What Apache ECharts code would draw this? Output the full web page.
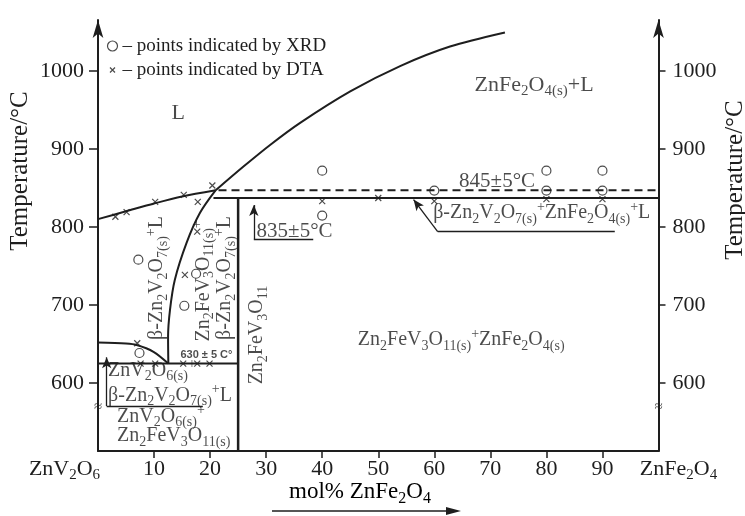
<!DOCTYPE html>
<html><head><meta charset="utf-8">
<script src="https://cdn.jsdelivr.net/npm/echarts@6/dist/echarts.min.js"></script>
<style>html,body{margin:0;padding:0;background:#fff}#c{width:745px;height:516px}</style>
</head><body><div id="c"></div>
<script>
const SERIF = '"Liberation Serif","Times New Roman",serif';
const INK = '#1e1e1e';

// ---- axes ----
const xTickValues = [0,10,20,30,40,50,60,70,80,90,100];
const xTickLabels = ['ZnV_{2}O_{6}','10','20','30','40','50','60','70','80','90','ZnFe_{2}O_{4}'];
const yTickValues = [600,700,800,900,1000];
const yTickLabels = ['600','700','800','900','1000'];
const yMin = 513, yMax = 1065;

// ---- phase boundaries (mol% ZnFe2O4, °C) ----
const liquidusLeftX = [0, 5, 10, 15, 21];
const liquidusLeftT = [810, 820, 830, 839, 847];
const liquidusRightX = [21, 25.9, 30.7, 36, 45, 53.9, 62.8, 72.6];
const liquidusRightT = [847, 877, 905, 933, 973.6, 1006, 1031, 1049];
const betaBoundaryX = [21, 18.2, 15.8, 13.7, 12.85, 12.5, 12.55];
const betaBoundaryT = [847, 818, 779.5, 732, 694, 659, 625];
const lowCurveX = [0, 5, 6.9, 9.9, 12.55];
const lowCurveT = [652, 650.6, 648.7, 640, 625];
const peritecticT = 847;      // dashed, 845±5 °C
const peritecticX = [21.5, 100];
const invariantT = 837;       // 835±5 °C
const invariantX = [20.6, 100];
const eutecticT = 625;        // 630±5 °C
const eutecticX = [0, 25];
const compoundX = 25;         // Zn2FeV3O11

// ---- experimental points ----
const xrdX = [7.2, 17.5, 15.4, 7.4, 40, 40, 60, 80, 90, 80, 90];
const xrdT = [758, 740, 699, 638.5, 872, 814.5, 846.5, 872, 872, 846.5, 846.5];
const dtaX = [3.1, 5.1, 10.2, 15.3, 20.4, 17.8, 17.7, 15.5, 7.0, 7.6, 10.2, 15.2, 17.7, 19.9, 40, 50, 60, 80, 90];
const dtaT = [813, 819, 832, 841, 853, 832, 794, 738.5, 651, 625, 625, 625, 625, 625, 833, 837, 833, 835.5, 835.5];

const XRD_NAME = '– points indicated by XRD';
const DTA_NAME = '– points indicated by DTA';

function toRich(s){
  let out='', last=0, m; const re=/([_^])\{([^}]*)\}/g;
  while((m=re.exec(s))!==null){
    if(m.index>last) out+='{n|'+s.slice(last,m.index)+'}';
    out+=(m[1]==='_'?'{s|':'{u|')+m[2]+'}';
    last=re.lastIndex;
  }
  if(last<s.length) out+='{n|'+s.slice(last)+'}';
  return out;
}
function richStyles(size, extra){
  const sub=Math.round(size*0.7), off=Math.round(size*0.6);
  return Object.assign({
    n:{fontFamily:SERIF,fontSize:size,color:INK,lineHeight:size+2},
    s:{fontFamily:SERIF,fontSize:sub,color:INK,lineHeight:sub+2,padding:[off,0,0,0]},
    u:{fontFamily:SERIF,fontSize:sub,color:INK,lineHeight:sub+2,padding:[0,0,off,0]}
  }, extra||{});
}
const zip=(a,b)=>a.map((v,i)=>[v,b[i]]);

// annotation layout (data coords)
const notes = [
  {t:'L', x:14.3, y:946, size:22},
  {t:'ZnFe_{2}O_{4(s)}+L', x:77.8, y:982, size:22},
  {t:'Zn_{2}FeV_{3}O_{11(s)}^{+}ZnFe_{2}O_{4(s)}', x:64.8, y:655},
  {t:'845±5°C', x:71.2, y:858, size:21},
  {t:'835±5°C', x:28.3, y:794, size:21, left:true},
  {t:'β-Zn_{2}V_{2}O_{7(s)}^{+}ZnFe_{2}O_{4(s)}^{+}L', x:59.8, y:818, left:true},
  {t:'β-Zn_{2}V_{2}O_{7(s)}^{+}L', x:10.5, y:734.6, rot:90},
  {t:'Zn_{2}FeV_{3}O_{11(s)}^{+}', x:18.8, y:730.8, rot:90},
  {t:'β-Zn_{2}V_{2}O_{7(s)}^{+}L', x:22.7, y:734.6, rot:90},
  {t:'Zn_{2}FeV_{3}O_{11}', x:28.4, y:661.5, rot:90},
  {t:'ZnV_{2}O_{6(s)}^{+}', x:1.8, y:616, left:true},
  {t:'β-Zn_{2}V_{2}O_{7(s)}^{+}L', x:1.8, y:584, left:true},
  {t:'ZnV_{2}O_{6(s)}^{+}', x:3.4, y:557.5, left:true},
  {t:'Zn_{2}FeV_{3}O_{11(s)}', x:3.4, y:532, left:true},
  {t:'≈', x:0, y:569, size:15},
  {t:'≈', x:100, y:569, size:15}
];
const noteData = notes.map(n=>({
  value:[n.x,n.y],
  label:{show:true, position:n.left?'right':'inside', distance:0, rotate:n.rot||0,
    formatter:()=>toRich(n.t), rich:richStyles(n.size||20)}
}));
noteData.push({value:[19.35,636], label:{show:true, position:'inside', formatter:'630 ± 5 C°',
  fontFamily:'"Liberation Sans",Arial,sans-serif', fontWeight:'bold', fontSize:11, color:INK}});

const arrowEnd = {symbol:'arrow', symbolSize:[7,11]};
const callouts = [
  [{coord:[1.55,570.5]},{coord:[1.55,633], ...arrowEnd}],
  [{coord:[1.55,570.5]},{coord:[18.7,570.5]}],
  [{coord:[27.8,784.2]},{coord:[27.8,828], ...arrowEnd}],
  [{coord:[27.8,784.2]},{coord:[38.4,784.2]}],
  [{coord:[60.6,794]},{coord:[56.3,835], ...arrowEnd}],
  [{coord:[60.6,794]},{coord:[92.2,794]}]
];

const lineBase = {type:'line', symbol:'none', silent:true, z:3, lineStyle:{color:INK,width:2}};
const chart = echarts.init(document.getElementById('c'));
chart.setOption({
  animation:false,
  backgroundColor:'#fff',
  grid:{left:98, right:86.5, top:20, bottom:65},
  legend:{left:105, top:36, padding:0, orient:'vertical', itemWidth:10, itemHeight:10, itemGap:4, selectedMode:false,
    textStyle:{fontFamily:SERIF, fontSize:19, color:INK, lineHeight:20},
    data:[
      {name:XRD_NAME, icon:'circle', itemStyle:{color:'#fff', borderColor:INK, borderWidth:1.2}},
      {name:DTA_NAME, icon:'path://M0,0M2.5,2.5L7.5,7.5M7.5,2.5L2.5,7.5M10,10', itemStyle:{color:'none', borderColor:INK, borderWidth:1.2}}
    ]},
  xAxis:{type:'value', min:0, max:100, interval:10,
    axisLine:{show:true, onZero:false, lineStyle:{color:INK,width:2}},
    axisTick:{show:true, length:7, customValues:xTickValues.slice(1,-1), lineStyle:{color:INK,width:1.5}},
    axisLabel:{customValues:xTickValues, margin:6, showMinLabel:true, showMaxLabel:true,
      formatter:(v)=>{const i=xTickValues.indexOf(v); let r=toRich(xTickLabels[i]);
        if(i===0) r=r+'{g| }'; if(i===xTickValues.length-1) r='{h| }'+r; return r;},
      rich:richStyles(22,{g:{width:67}, h:{width:40}})},
    splitLine:{show:false}},
  yAxis:[0,1].map(k=>({type:'value', min:yMin, max:yMax, position:k?'right':'left',
    axisLine:{show:true, onZero:false, lineStyle:{color:INK,width:2}, symbol:['none','arrow'], symbolSize:[8,18]},
    axisTick:{show:true, length:k?7:9, customValues:yTickValues, lineStyle:{color:INK,width:1.5}},
    axisLabel:{customValues:yTickValues, margin:14, fontFamily:SERIF, fontSize:22, color:INK,
      formatter:(v)=>yTickLabels[yTickValues.indexOf(v)]},
    splitLine:{show:false}})),
  graphic:[
    {type:'text', x:20, y:171, rotation:Math.PI/2, style:{text:'Temperature/°C', font:'25px '+SERIF, fill:INK, align:'center', verticalAlign:'middle', textAlign:'center', textVerticalAlign:'middle'}},
    {type:'text', x:735, y:180, rotation:Math.PI/2, style:{text:'Temperature/°C', font:'25px '+SERIF, fill:INK, align:'center', verticalAlign:'middle', textAlign:'center', textVerticalAlign:'middle'}},
    {type:'text', x:360, y:492, style:{text:toRich('mol% ZnFe_{2}O_{4}'), rich:richStyles(23), align:'center', verticalAlign:'middle', textAlign:'center', textVerticalAlign:'middle'}},
    {type:'line', shape:{x1:272,y1:511,x2:448,y2:511}, style:{stroke:INK, lineWidth:1.5}},
    {type:'polygon', shape:{points:[[446,507],[461,511],[446,515]]}, style:{fill:INK}}
  ],
  series:[
    Object.assign({}, lineBase, {data:zip(liquidusLeftX,liquidusLeftT), smooth:0.3}),
    Object.assign({}, lineBase, {data:zip(liquidusRightX,liquidusRightT), smooth:0.3}),
    Object.assign({}, lineBase, {data:zip(betaBoundaryX,betaBoundaryT), smooth:0.3}),
    Object.assign({}, lineBase, {data:zip(lowCurveX,lowCurveT), smooth:0.3}),
    Object.assign({}, lineBase, {data:peritecticX.map(x=>[x,peritecticT]), lineStyle:{color:INK,width:2,type:[8,5]}}),
    Object.assign({}, lineBase, {data:invariantX.map(x=>[x,invariantT])}),
    Object.assign({}, lineBase, {data:eutecticX.map(x=>[x,eutecticT])}),
    Object.assign({}, lineBase, {data:[[compoundX,invariantT],[compoundX,yMin]], lineStyle:{color:INK,width:2.5}}),
    {type:'scatter', name:XRD_NAME, silent:true, z:4, symbol:'circle', symbolSize:9,
      itemStyle:{color:'transparent', borderColor:INK, borderWidth:1.2}, data:zip(xrdX,xrdT)},
    {type:'scatter', name:DTA_NAME, silent:true, z:4, symbol:'path://M0,0L10,10M10,0L0,10', symbolSize:6,
      itemStyle:{color:'none', borderColor:INK, borderWidth:1.2}, data:zip(dtaX,dtaT)},
    {type:'scatter', silent:true, z:5, clip:false, symbolSize:0, itemStyle:{color:'transparent'}, data:noteData,
      markLine:{silent:true, symbol:['none','none'], label:{show:false}, lineStyle:{color:INK,width:1.3,type:'solid'},
        emphasis:{disabled:true}, data:callouts}}
  ]
});
</script></body></html>
